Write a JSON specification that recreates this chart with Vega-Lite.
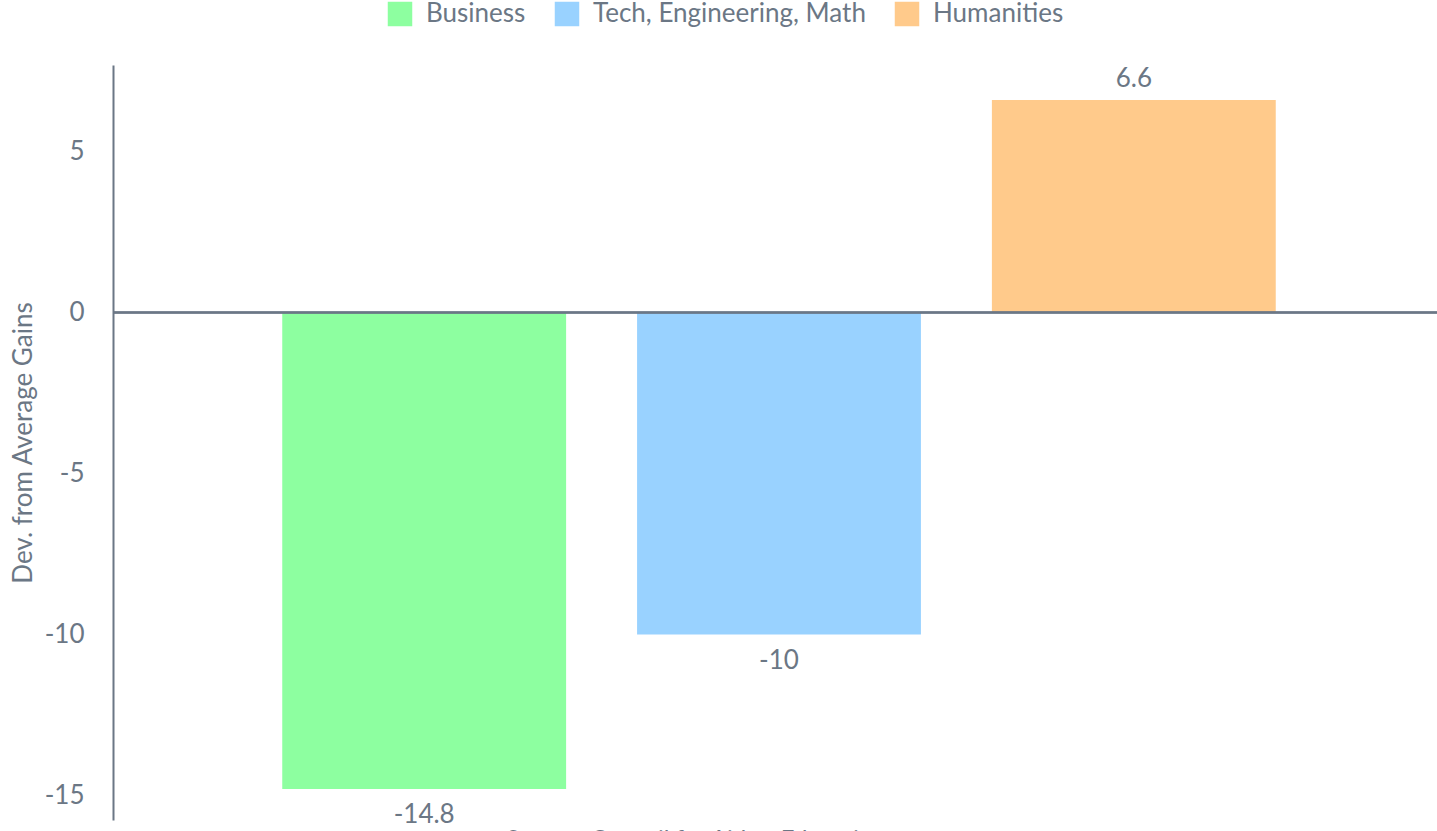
{
  "$schema": "https://vega.github.io/schema/vega-lite/v6.json",
  "autosize": {"type": "none"},
  "width": 1332,
  "height": 755,
  "padding": {"left": 113, "top": 65, "right": 0, "bottom": 11},
  "background": "white",
  "config": {
    "font": "Lato",
    "view": {"stroke": null},
    "text": {"font": "Lato"}
  },
  "title": {
    "text": "Source: Council for Aid to Education",
    "orient": "bottom",
    "anchor": "middle",
    "fontSize": 24,
    "fontWeight": "normal",
    "color": "#6b7785",
    "font": "Lato",
    "offset": 0,
    "dx": -83
  },
  "data": {
    "values": [
      {"category": "Business", "value": -14.8},
      {"category": "Tech, Engineering, Math", "value": -10},
      {"category": "Humanities", "value": 6.6}
    ]
  },
  "layer": [
    {
      "mark": {"type": "bar"},
      "encoding": {
        "x": {
          "field": "category",
          "type": "nominal",
          "sort": ["Business", "Tech, Engineering, Math", "Humanities"],
          "scale": {"paddingInner": 0.2, "paddingOuter": 0.477},
          "axis": null
        },
        "y": {
          "field": "value",
          "type": "quantitative",
          "scale": {"domain": [-15.76, 7.69], "nice": false},
          "axis": {
            "values": [-15, -10, -5, 0, 5],
            "labelExpr": "replace(datum.label, '\u2212', '-')",
            "domain": true,
            "domainColor": "#6b7785",
            "domainWidth": 2,
            "ticks": false,
            "grid": false,
            "labelFontSize": 26,
            "labelColor": "#6b7785",
            "labelFont": "Lato",
            "labelPadding": 29,
            "title": "Dev. from Average Gains",
            "titleFontSize": 26,
            "titleFontWeight": "normal",
            "titleColor": "#6b7785",
            "titleFont": "Lato",
            "titlePadding": 8
          }
        },
        "color": {
          "field": "category",
          "type": "nominal",
          "sort": ["Business", "Tech, Engineering, Math", "Humanities"],
          "scale": {
            "domain": ["Business", "Tech, Engineering, Math", "Humanities"],
            "range": ["#8dffa0", "#99d2ff", "#ffca8b"]
          },
          "legend": {
            "orient": "none",
            "direction": "horizontal",
            "legendX": 274,
            "legendY": -64,
            "title": null,
            "symbolType": "square",
            "symbolSize": 600,
            "symbolStrokeWidth": 0,
            "labelFontSize": 26,
            "labelColor": "#6b7785",
            "labelFont": "Lato",
            "labelLimit": 1000,
            "labelOffset": 13,
            "columnPadding": 28
          }
        }
      }
    },
    {
      "mark": {"type": "rule", "color": "#6b7785", "strokeWidth": 2},
      "encoding": {"y": {"datum": 0, "type": "quantitative"}}
    },
    {
      "transform": [{"filter": "datum.value >= 0"}],
      "mark": {"type": "text", "fontSize": 26, "color": "#6b7785", "baseline": "alphabetic", "dy": -13},
      "encoding": {
        "x": {
          "field": "category",
          "type": "nominal",
          "sort": ["Business", "Tech, Engineering, Math", "Humanities"],
          "scale": {"paddingInner": 0.2, "paddingOuter": 0.477},
          "axis": null
        },
        "y": {"field": "value", "type": "quantitative"},
        "text": {"field": "value", "type": "nominal"}
      }
    },
    {
      "transform": [{"filter": "datum.value < 0"}],
      "mark": {"type": "text", "fontSize": 26, "color": "#6b7785", "baseline": "top", "dy": 13},
      "encoding": {
        "x": {
          "field": "category",
          "type": "nominal",
          "sort": ["Business", "Tech, Engineering, Math", "Humanities"],
          "scale": {"paddingInner": 0.2, "paddingOuter": 0.477},
          "axis": null
        },
        "y": {"field": "value", "type": "quantitative"},
        "text": {"field": "value", "type": "nominal"}
      }
    }
  ]
}
